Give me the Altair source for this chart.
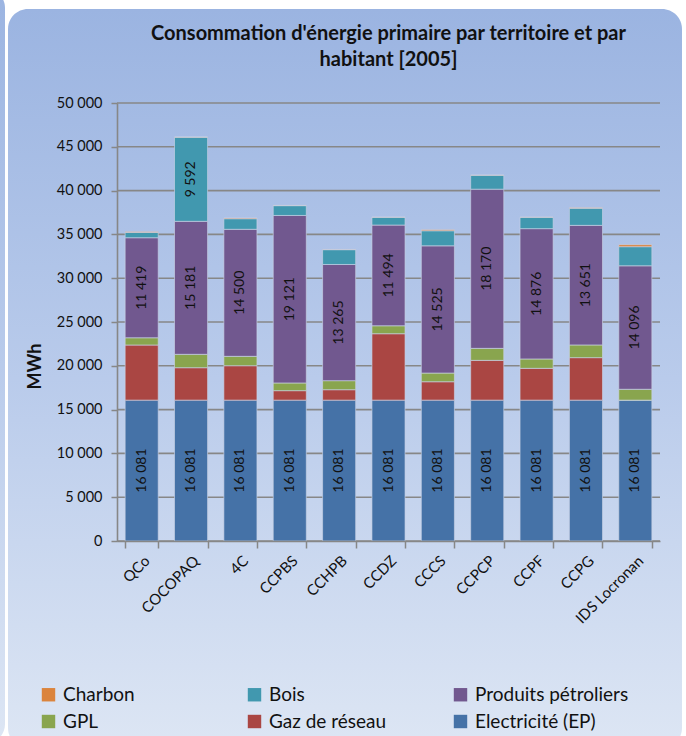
import altair as alt
import pandas as pd

# ---- data ----
territoires = ["QCo", "COCOPAQ", "4C", "CCPBS", "CCHPB", "CCDZ", "CCCS",
               "CCPCP", "CCPF", "CCPG", "IDS Locronan"]
electricite = [16081, 16081, 16081, 16081, 16081, 16081, 16081, 16081, 16081, 16081, 16081]
gaz = [6290, 3700, 3930, 1080, 1190, 7580, 2100, 4540, 3630, 4850, 0]
gpl = [830, 1530, 1070, 880, 1030, 910, 990, 1370, 1070, 1450, 1240]
petrole = [11419, 15181, 14500, 19121, 13265, 11494, 14525, 18170, 14876, 13651, 14096]
bois = [610, 9592, 1210, 1120, 1690, 880, 1720, 1580, 1290, 1950, 2180]
charbon = [60, 40, 90, 30, 30, 40, 120, 40, 30, 60, 230]

series = ["Electricité (EP)", "Gaz de réseau", "GPL", "Produits pétroliers", "Bois", "Charbon"]
valeurs = [electricite, gaz, gpl, petrole, bois, charbon]
# legend is filled column by column (3 columns, 2 rows)
legende_ordre = ["Charbon", "GPL", "Bois", "Gaz de réseau", "Produits pétroliers", "Electricité (EP)"]
legende_couleurs = ["#DB843D", "#89A54E", "#4198AF", "#AA4643", "#71588F", "#4572A7"]
graduations = [0, 5000, 10000, 15000, 20000, 25000, 30000, 35000, 40000, 45000, 50000]

rows = []
for i, s in enumerate(series):
    for t, v in zip(territoires, valeurs[i]):
        rows.append({"territoire": t, "energie": s, "ordre": i, "valeur": v})
df = pd.DataFrame(rows)

# ---- layout ----
W, H = 543, 438
PL, PT = 117, 103
FONT = "Lato"
GRID = "#878787"

x_enc = alt.X(
    "territoire:N", sort=territoires,
    scale=alt.Scale(paddingInner=0.33, paddingOuter=0.165),
    axis=alt.Axis(title=None, labelAngle=315, labelFont=FONT, labelFontSize=15,
                  labelColor="#111111", tickBand="extent", tickSize=7,
                  tickColor=GRID, tickWidth=1.5, domainColor=GRID, domainWidth=1.6,
                  labelPadding=5, grid=False, zindex=1),
)
y_scale = alt.Scale(domain=[0, 50000], nice=False)
y_axis = alt.Axis(values=graduations, format=",d", title="MWh", grid=False,
                  labelFont=FONT, labelFontSize=14.5, labelColor="#111111",
                  labelPadding=9, tickSize=6, tickColor=GRID, tickWidth=1.5,
                  domainColor=GRID, domainWidth=1.6,
                  titleFont=FONT, titleFontSize=18, titleFontWeight="bold",
                  titleColor="#111111", titleX=35 - PL, titleY=366 - PT,
                  titleAngle=270, titleAlign="center", titleBaseline="middle", zindex=1)

grad = alt.LinearGradient(
    gradient="linear", x1=0, x2=0, y1=0, y2=1,
    stops=[alt.GradientStop(color="#9bb4e1", offset=0),
           alt.GradientStop(color="#b9cbeb", offset=0.5),
           alt.GradientStop(color="#dde6f4", offset=1)],
)
one = pd.DataFrame({"a": [0]})
panel = alt.Chart(one).mark_rect(cornerRadius=20, color=grad).encode(
    x=alt.value(8 - PL), x2=alt.value(682 - PL),
    y=alt.value(9 - PT), y2=alt.value(748 - PT))
sliver = alt.Chart(one).mark_rect(cornerRadius=20, color=grad).encode(
    x=alt.value(-60 - PL), x2=alt.value(5 - PL),
    y=alt.value(-12 - PT), y2=alt.value(744 - PT))

rules = alt.Chart(pd.DataFrame({"g": graduations})).mark_rule(
    color=GRID, strokeWidth=1.6).encode(y=alt.Y("g:Q", scale=y_scale, axis=y_axis))

base = alt.Chart(df).transform_stack(
    stack="valeur", groupby=["territoire"], as_=["y0", "y1"],
    sort=[alt.SortField("ordre", order="ascending")])

bars = base.mark_bar(stroke="#c9d3e6", strokeWidth=0.8, strokeOpacity=0.8).encode(
    x=x_enc,
    y=alt.Y("y0:Q", scale=y_scale, axis=y_axis),
    y2="y1:Q",
    color=alt.Color("energie:N",
                    scale=alt.Scale(domain=legende_ordre, range=legende_couleurs),
                    legend=alt.Legend(title=None, orient="none",
                                      legendX=39 - PL, legendY=685 - PT,
                                      columns=3, symbolType="square", symbolSize=180,
                                      symbolStrokeWidth=0, labelFont=FONT,
                                      labelFontSize=19, labelColor="#111111",
                                      rowPadding=7, columnPadding=28,
                                      gridAlign="all", labelOffset=5)),
)

labels = base.transform_filter(alt.datum.valeur >= 9000).transform_calculate(
    mid="(datum.y0 + datum.y1) / 2").mark_text(
    angle=270, font=FONT, fontSize=14, color="#111111",
    align="center", baseline="middle").encode(
    x=x_enc,
    y=alt.Y("mid:Q", scale=y_scale, axis=y_axis),
    text=alt.Text("valeur:Q", format=",d"),
)

chart = alt.layer(panel, sliver, rules, bars, labels).properties(
    width=W, height=H,
    autosize=alt.AutoSizeParams(type="none"),
    padding={"left": PL, "top": PT, "right": 686 - PL - W, "bottom": 736 - PT - H},
    title=alt.TitleParams(
        text=["Consommation d'énergie primaire par territoire et par", "habitant [2005]"],
        font=FONT, fontSize=20, fontWeight="bold", color="#111111",
        anchor="middle", offset=-82, lineHeight=26),
).configure(
    background="white",
    locale={"number": {"decimal": ",", "thousands": " ", "grouping": [3],
                       "currency": ["", " €"]}},
).configure_view(stroke=None)

chart.save("out.html", embed_options={"renderer": "svg", "actions": False})
